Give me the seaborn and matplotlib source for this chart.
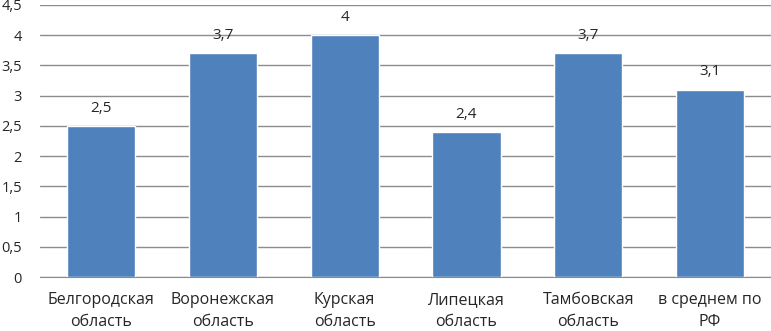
import matplotlib
matplotlib.use("Agg")
import matplotlib.pyplot as plt
import seaborn as sns
import pandas as pd

regions = ["Белгородская\nобласть", "Воронежская\nобласть", "Курская\nобласть",
           "Липецкая\nобласть", "Тамбовская\nобласть", "в среднем по\nРФ"]
values = [2.5, 3.7, 4.0, 2.4, 3.7, 3.1]
yticks = [0, 0.5, 1, 1.5, 2, 2.5, 3, 3.5, 4, 4.5]

df = pd.DataFrame({"region": regions, "value": values})

sns.set_style("white")
plt.rcParams["font.family"] = ["Open Sans", "DejaVu Sans"]

fig = plt.figure(figsize=(7.71, 3.31), dpi=100)
ax = fig.add_axes([0.052, 0.163, 0.948, 0.822])

sns.barplot(data=df, x="region", y="value", color="#4F81BD", saturation=1,
            width=0.56, ax=ax, zorder=3)

ax.set_ylim(0, 4.5)
ax.set_yticks(yticks)
ax.set_yticklabels([f"{t:g}".replace(".", ",") for t in yticks], fontsize=10.5)
ax.yaxis.grid(True, color="#8c8c8c", linewidth=1, zorder=0)
ax.set_axisbelow(True)
ax.tick_params(axis="y", length=0, pad=13)
ax.tick_params(axis="x", length=0, pad=11, labelsize=11.5)
for lbl in ax.get_xticklabels():
    lbl.set_linespacing(1.5)
ax.set_xlabel("")
ax.set_ylabel("")
for s in ["top", "right", "left"]:
    ax.spines[s].set_visible(False)
ax.spines["bottom"].set_color("#8c8c8c")

for i, v in enumerate(values):
    ax.text(i, v + 0.17, f"{v:g}".replace(".", ","), ha="center", va="bottom", fontsize=11)

fig.savefig("out.png", dpi=100)
